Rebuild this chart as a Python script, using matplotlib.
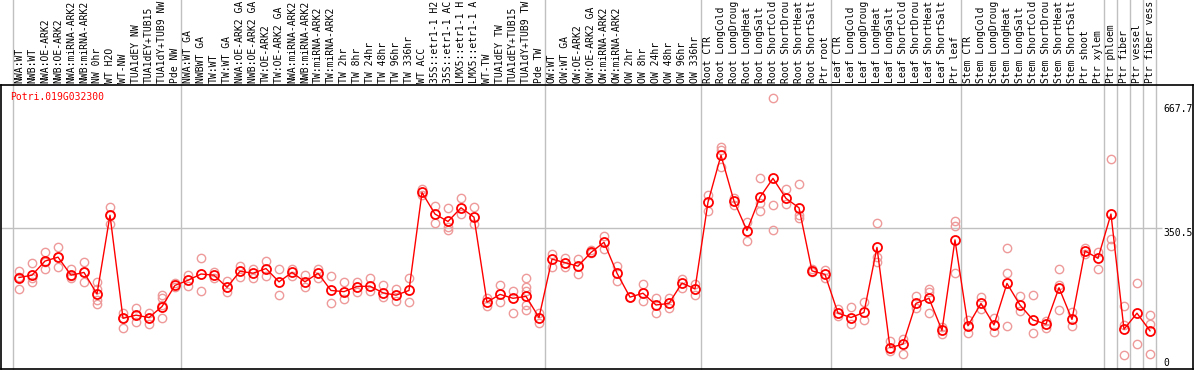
import matplotlib.pyplot as plt

labels = ['NWA:WT', 'NWB:WT', 'NWA:OE-ARK2', 'NWB:OE-ARK2', 'NWA:miRNA-ARK2', 'NWB:miRNA-ARK2',
          'NW 0hr', 'WT H2O', 'WT-NW', 'TUA1dEY NW', 'TUA1dEY+TUB15', 'TUA1dY+TUB9 NW', 'Pde NW',
          'NWA:WT GA', 'NWBWT GA', 'TW:WT', 'TW:WT GA', 'NWA:OE-ARK2 GA', 'NWB:OE-ARK2 GA',
          'TW:OE-ARK2', 'TW:OE-ARK2 GA', 'NWA:miRNA-ARK2', 'NWB:miRNA-ARK2', 'TW:miRNA-ARK2',
          'TW:miRNA-ARK2', 'TW 2hr', 'TW 8hr', 'TW 24hr', 'TW 48hr', 'TW 96hr', 'TW 336hr',
          'WT ACC', '35S::etr1-1 H2', '35S::etr1-1 AC', 'LMX5::etr1-1 H', 'LMX5::etr1-1 A',
          'WT-TW', 'TUA1dEY TW', 'TUA1dEY+TUB15', 'TUA1dY+TUB9 TW', 'Pde TW',
          'OW:WT', 'OW:WT GA', 'OW:OE-ARK2', 'OW:OE-ARK2 GA', 'OW:miRNA-ARK2', 'OW:miRNA-ARK2',
          'OW 2hr', 'OW 8hr', 'OW 24hr', 'OW 48hr', 'OW 96hr', 'OW 336hr',
          'Root CTR', 'Root LongCold', 'Root LongDroug', 'Root LongHeat', 'Root LongSalt',
          'Root ShortCold', 'Root ShortDrou', 'Root ShortHeat', 'Root ShortSalt', 'Ptr root',
          'Leaf CTR', 'Leaf LongCold', 'Leaf LongDroug', 'Leaf LongHeat', 'Leaf LongSalt',
          'Leaf ShortCold', 'Leaf ShortDrou', 'Leaf ShortHeat', 'Leaf ShortSalt', 'Ptr leaf',
          'Stem CTR', 'Stem LongCold', 'Stem LongDroug', 'Stem LongHeat', 'Stem LongSalt',
          'Stem ShortCold', 'Stem ShortDrou', 'Stem ShortHeat', 'Stem ShortSalt', 'Ptr shoot',
          'Ptr xylem', 'Ptr phloem', 'Ptr fiber', 'Ptr vessel', 'Ptr fiber vess']

means = [225, 231, 267, 277, 231, 238, 183, 384, 121, 129, 123, 151, 205, 218,
         234, 231, 200, 241, 236, 248, 214, 238, 214, 236, 192, 189, 202, 203, 186, 180,
         192, 442, 387, 368, 403, 379, 162, 182, 172, 177, 123,
         272, 263, 254, 289, 315, 236, 175, 185, 155, 159, 211, 196,
         417, 537, 420, 345, 430, 478, 427, 403, 242, 233,
         134, 123, 136, 302, 46, 55, 159, 172, 90, 321,
         102, 159, 104, 210, 155, 117, 106, 199, 118, 293, 274,
         387, 93, 134, 89]

reps = [[242, 227, 197], [261, 223, 213], [289, 265, 248], [302, 277, 251], [248, 230, 223],
        [264, 238, 214], [214, 197, 168, 157], [404, 384, 361], [135, 121, 97], [146, 129, 111],
        [135, 123, 106], [180, 172, 155, 121], [210, 200], [231, 204],
        [275, 191], [238, 225], [216, 187], [254, 226], [247, 225], [267, 230], [247, 180],
        [247, 230], [231, 200], [248, 225], [228, 159], [214, 169], [214, 187], [225, 191],
        [206, 175], [196, 165],
        [223, 162], [452, 436], [408, 363], [402, 355, 346], [429, 386], [404, 361], [174, 153],
        [206, 163], [191, 135], [223, 202, 191, 155, 142], [135, 108],
        [284, 253], [276, 253], [272, 233], [295, 287], [331, 298], [254, 216], [175], [208, 165],
        [174, 134], [174, 148], [220, 199], [208, 180],
        [436, 396], [558, 550, 507], [427, 410], [367, 318], [478, 414, 396], [682, 410, 346],
        [450, 412], [463, 385, 376], [248, 240], [243, 225],
        [145, 128], [150, 106], [162, 117], [363, 278, 265], [63, 37], [68, 29], [178, 146],
        [196, 187, 135], [99, 80], [368, 357, 236],
        [117, 83], [175, 145], [123, 85], [300, 236, 102], [178, 140], [180, 83], [115, 95],
        [247, 206, 142], [136, 102], [301, 284], [291, 248],
        [527, 323, 306], [152, 104, 27], [210, 55], [129, 106, 29]]

group_breaks = [-0.5, 12.5, 40.5, 52.5, 62.5, 72.5, 83.5, 84.5, 85.5, 86.5, 87.5]
yticks = [667.7, 350.5, 0]
gene = 'Potri.019G032300'

plt.rcParams['font.family'] = 'DejaVu Sans Mono'
fig = plt.figure(figsize=(11.94, 3.70), dpi=100)
ax = fig.add_axes([1/1194, 1/370, 1192/1194, 284/370])
x = list(range(len(means)))

# replicates
for i, r in enumerate(reps):
    ax.plot([i]*len(r), r, 'o', ms=6, mfc='none', mec='#ee9a9a', mew=1.0, zorder=2)
# mean line
ax.plot(x, means, '-', color='red', lw=1, zorder=3)
ax.plot(x, means, 'o', ms=6.5, mfc='none', mec='red', mew=1.3, zorder=4)

ax.set_xlim(-1.385, 90.31)
ax.set_ylim(-8.4, 716.3)
ax.set_xticks([]); ax.set_yticks([])
for s in ax.spines.values():
    s.set_linewidth(1.2)

top = 1 + 85/284
for b in group_breaks:
    ax.axvline(b, ymin=0, ymax=top, color='#c0c0c0', lw=1, clip_on=False, zorder=1)
ax.hlines(350.5, -1.385, 87.9, color='#c0c0c0', lw=1, zorder=1)

for i, lab in enumerate(labels):
    ax.text(i, 1.007, lab, transform=ax.get_xaxis_transform(), rotation=90,
            ha='center', va='bottom', fontsize=7, clip_on=False)

ax.text(0.975, 667.7, '667.7', transform=ax.get_yaxis_transform(), va='top', ha='left', fontsize=7)
ax.text(0.975, 350.5, '350.5', transform=ax.get_yaxis_transform(), va='top', ha='left', fontsize=7)
ax.text(0.975, 0, '0', transform=ax.get_yaxis_transform(), va='baseline', ha='left', fontsize=7)
ax.text(0.0076, 0.958, gene, transform=ax.transAxes, color='red', va='center', ha='left', fontsize=7)

fig.savefig('out.png', dpi=100)
